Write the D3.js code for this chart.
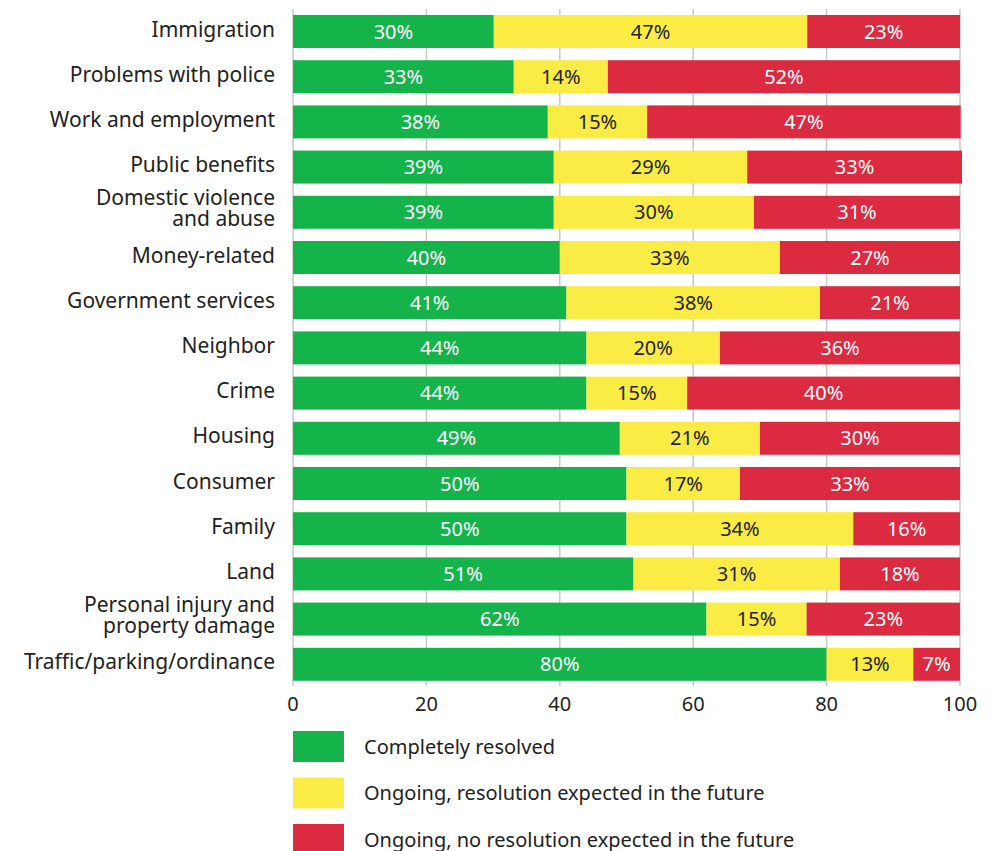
<!DOCTYPE html>
<html>
<head>
<meta charset="utf-8">
<script src="https://cdn.jsdelivr.net/npm/d3@7"></script>
<style>
  body { margin: 0; background: #fff; }
  text { font-family: "Noto Sans", "Open Sans", sans-serif; }
</style>
</head>
<body>
<div id="chart"></div>
<script>
var categories = ["Immigration", "Problems with police", "Work and employment", "Public benefits",
    "Domestic violence|and abuse", "Money-related", "Government services", "Neighbor", "Crime",
    "Housing", "Consumer", "Family", "Land", "Personal injury and|property damage",
    "Traffic/parking/ordinance"];

// bar lengths (percent)
var resolved = [30.1, 33.1, 38.2, 39.1, 39.1, 40, 41, 44, 44, 49, 50, 50, 51, 62, 80];
var ongoingExpected = [47, 14.1, 14.9, 29, 30, 33, 38, 20, 15.1, 21, 17, 34, 31, 15, 13];
var ongoingNone = [22.9, 52.8, 47, 32.2, 30.9, 27, 21, 36, 40.9, 30, 33, 16, 18, 23, 7];

// printed labels
var resolvedLabels = [30, 33, 38, 39, 39, 40, 41, 44, 44, 49, 50, 50, 51, 62, 80];
var expectedLabels = [47, 14, 15, 29, 30, 33, 38, 20, 15, 21, 17, 34, 31, 15, 13];
var noneLabels = [23, 52, 47, 33, 31, 27, 21, 36, 40, 30, 33, 16, 18, 23, 7];

var seriesNames = ["Completely resolved", "Ongoing, resolution expected in the future",
    "Ongoing, no resolution expected in the future"];
var seriesColors = ["#15b44a", "#fbeb45", "#dc2a40"];
var labelColors = ["#fff", "#222", "#fff"];
var xTicks = [0, 20, 40, 60, 80, 100];

var width = 995, height = 851;
var margin = {left: 293, right: 35};

var svg = d3.select("#chart").append("svg")
    .attr("width", width)
    .attr("height", height);

var x = d3.scaleLinear()
    .domain([0, 100])
    .range([margin.left, width - margin.right]);

var y = d3.scaleBand()
    .domain(categories)
    .range([8.9, 686.9])
    .paddingInner(0.27)
    .paddingOuter(0.135);

// grid
svg.append("g").selectAll("line")
    .data(xTicks)
    .enter().append("line")
    .attr("x1", function(d) { return x(d); })
    .attr("x2", function(d) { return x(d); })
    .attr("y1", 9)
    .attr("y2", 686)
    .attr("stroke", "#c8c8c8")
    .attr("stroke-width", 1.5);

svg.append("g").selectAll("text")
    .data(xTicks)
    .enter().append("text")
    .attr("x", function(d) { return x(d); })
    .attr("y", 711)
    .attr("text-anchor", "middle")
    .attr("font-size", 20)
    .attr("fill", "#222")
    .text(function(d) { return d; });

var rows = categories.map(function(c, i) {
    return {name: c, s0: resolved[i], s1: ongoingExpected[i], s2: ongoingNone[i],
        l0: resolvedLabels[i], l1: expectedLabels[i], l2: noneLabels[i]};
});

var stack = d3.stack().keys(["s0", "s1", "s2"]);
var layers = stack(rows);

layers.forEach(function(ly, k) {
    var g = svg.append("g");
    g.selectAll("rect")
        .data(ly)
        .enter().append("rect")
        .attr("x", function(d) { return x(d[0]); })
        .attr("width", function(d) { return x(d[1]) - x(d[0]); })
        .attr("y", function(d) { return y(d.data.name); })
        .attr("height", y.bandwidth())
        .attr("fill", seriesColors[k]);

    g.selectAll("text")
        .data(ly)
        .enter().append("text")
        .attr("x", function(d) { return (x(d[0]) + x(d[1])) / 2; })
        .attr("y", function(d) { return y(d.data.name) + y.bandwidth() / 2; })
        .attr("dy", "0.35em")
        .attr("text-anchor", "middle")
        .attr("font-size", 20)
        .attr("fill", labelColors[k])
        .text(function(d) { return d.data["l" + k] + "%"; });
});

// category labels
var cat = svg.append("g").selectAll("text")
    .data(categories)
    .enter().append("text")
    .attr("x", 275)
    .attr("y", function(d) { return y(d) + y.bandwidth() / 2; })
    .attr("text-anchor", "end")
    .attr("font-size", 21)
    .attr("fill", "#222");

cat.each(function(d) {
    var parts = d.split("|");
    var t = d3.select(this);
    if (parts.length === 1) {
        t.append("tspan").attr("x", 275).attr("dy", 5).text(parts[0]);
    } else {
        t.append("tspan").attr("x", 275).attr("dy", -7).text(parts[0]);
        t.append("tspan").attr("x", 275).attr("dy", 20.5).text(parts[1]);
    }
});

// legend
var legend = svg.append("g").selectAll("g")
    .data(seriesNames)
    .enter().append("g")
    .attr("transform", function(d, i) { return "translate(293," + (731 + i * 46.5) + ")"; });

legend.append("rect")
    .attr("width", 51)
    .attr("height", 31)
    .attr("fill", function(d, i) { return seriesColors[i]; });

legend.append("text")
    .attr("x", 71)
    .attr("y", 15.5)
    .attr("dy", "0.35em")
    .attr("font-size", 20)
    .attr("fill", "#222")
    .text(function(d) { return d; });
</script>
</body>
</html>
